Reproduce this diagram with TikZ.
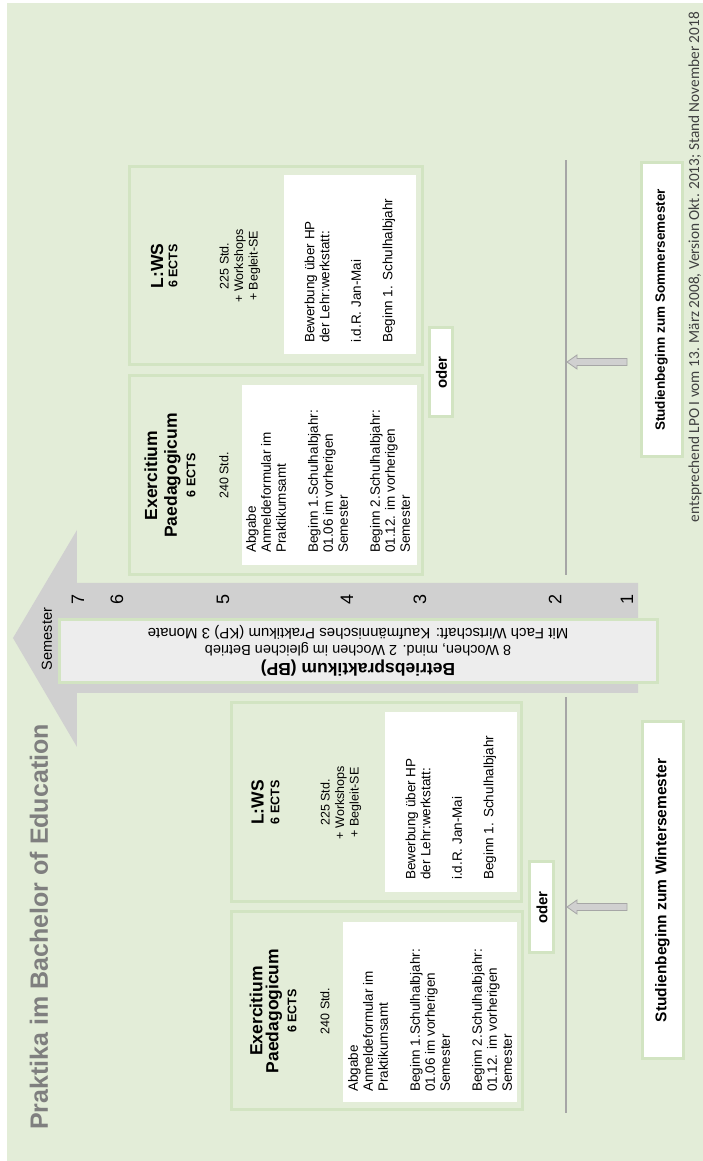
\documentclass[tikz,border=0pt]{standalone}
\usepackage{fontspec}
\setmainfont{Liberation Sans}
\newfontfamily\footfont{Carlito}
\usetikzlibrary{calc}
\definecolor{bggreen}{HTML}{E3EDD8}
\definecolor{boxgreen}{HTML}{D2E4C2}
\definecolor{arrowgrey}{HTML}{D0D0D0}
\definecolor{bpgrey}{HTML}{EDEDED}
\definecolor{linegrey}{HTML}{A6A6A6}
\definecolor{titlegrey}{HTML}{7F7F7F}
\newcommand{\fsz}[2]{\fontsize{#1}{#2}\selectfont}
\def\startarrow(#1)(#2){\filldraw[fill=arrowgrey, draw=black!35, line width=0.8pt] ($(#1)+(-3.5,0)$) -- ($(#2)+(-3.5,-10)$) -- ($(#2)+(-7,-10)$) -- (#2) -- ($(#2)+(7,-10)$) -- ($(#2)+(3.5,-10)$) -- ($(#1)+(3.5,0)$) -- cycle;}

\begin{document}
\begin{tikzpicture}[x=1pt, y=1pt,
	phase/.style={draw=boxgreen, line width=3pt},
	ph/.style={font=\bfseries\fsz{17.5}{19}, inner sep=0},
	ects/.style={font=\bfseries\fsz{12.5}{14}, inner sep=0},
	std/.style={font=\fsz{12.5}{14.5}, align=center, inner sep=0},
	info/.style={font=\fsz{13.5}{15}, align=left, anchor=west, inner sep=0},
	oderbox/.style={draw=boxgreen, line width=3pt, fill=white, font=\bfseries\fsz{15}{17}, inner sep=0},
	startbox/.style={draw=boxgreen, line width=3pt, fill=white, font=\bfseries, inner sep=0},
	semline/.style={draw=linegrey, line width=2pt}]
	\begin{scope}[rotate=90, transform shape]
		%%%%% START %%%%%
		
		\useasboundingbox (0,0) rectangle (1161,703);
		\fill[white] (0,0) rectangle (1161,703);
		\fill[bggreen] (0,0) rectangle (1158,696);
		
		\node[anchor=west, font=\bfseries\fsz{25}{30}, text=titlegrey, inner sep=0] (title) at (31,664) {Praktika im Bachelor of Education};
		
		% Semesterpfeil
		\fill[arrowgrey] (468,65) -- (578,65) -- (578,626) -- (631,626) -- (523,690) -- (414,626) -- (468,626) -- cycle;
		\node[font=\fsz{14.5}{16}, inner sep=0] (semlabel) at (522,656) {Semester};
		\foreach \n/\v in {1/76,2/148,3/283,4/356,5/480,6/586,7/625}
			\node[font=\fsz{18}{20}, inner sep=0] (sem\n) at (561,\v) {\n};
		
		\draw[phase, fill=bpgrey] (478,46) rectangle (541,643);
		\node[rotate=90, font=\bfseries\fsz{17.5}{19}, inner sep=0] (bp1) at (493,345) {Betriebspraktikum (BP)};
		\node[rotate=90, font=\fsz{14.5}{16}, inner sep=0] (bp2) at (512,345) {8 Wochen, mind. 2 Wochen im gleichen Betrieb};
		\node[rotate=90, font=\fsz{15}{16}, inner sep=0] (bp3) at (529,345) {Mit Fach Wirtschaft: Kaufmännisches Praktikum (KP) 3 Monate};
		
		% Wintersemester
		\draw[phase] (51,180) rectangle (249,471);
		\fill[white] (59,186) rectangle (239,360);
		\node[ph] (exW1) at (150,447) {Exercitium};
		\node[ph] (exW2) at (150,429) {Paedagogicum};
		\node[ects] (exW3) at (150,411) {6 ECTS};
		\node[std] (exW4) at (150,378) {240 Std.};
		\node[info] (exWinfo) at (69,273) {Abgabe\\Anmeldeformular im\\Praktikumsamt\\[17pt]Beginn 1.Schulhalbjahr:\\01.06 im vorherigen\\Semester\\[17pt]Beginn 2.Schulhalbjahr:\\01.12. im vorherigen\\Semester};
		
		\draw[phase] (259,181) rectangle (458,471);
		\fill[white] (269,186) rectangle (449,318);
		\node[ph] (lwW1) at (358.5,445.5) {L:WS};
		\node[ects] (lwW2) at (358.5,428) {6 ECTS};
		\node[std] (lwW3) at (358.5,362) {225 Std.\\+ Workshops\\+ Begleit-SE};
		\node[info] (lwWinfo) at (281,252) {Bewerbung über HP\\der Lehr:werkstatt:\\[16.5pt]i.d.R. Jan-Mai\\[16.5pt]Beginn 1. Schulhalbjahr};
		
		\node[oderbox, minimum width=91, minimum height=24] (oderW) at (253.5,161) {oder};
		\draw[semline] (48,137) -- (464,137);
		\node[startbox, minimum width=337, minimum height=41, font=\bfseries\fsz{15.5}{18}] (startW) at (270.5,40.5) {Studienbeginn zum Wintersemester};
		\coordinate (wsTail) at (254,76);
		\coordinate (wsTip) at (254,136);
		\startarrow(wsTail)(wsTip)
		
		% Sommersemester
		\draw[phase] (586,280) rectangle (785,573);
		\fill[white] (596,286) rectangle (776,461);
		\node[ph] (exS1) at (685.5,552) {Exercitium};
		\node[ph] (exS2) at (685.5,530.5) {Paedagogicum};
		\node[ects] (exS3) at (685.5,512) {6 ECTS};
		\node[std] (exS4) at (685.5,479) {240 Std.};
		\node[info] (exSinfo) at (608,375) {Abgabe\\Anmeldeformular im\\Praktikumsamt\\[17pt]Beginn 1.Schulhalbjahr:\\01.06 im vorherigen\\Semester\\[17pt]Beginn 2.Schulhalbjahr:\\01.12. im vorherigen\\Semester};
		
		\draw[phase] (796,280) rectangle (994,573);
		\fill[white] (807,287) rectangle (986,419);
		\node[ph] (lwS1) at (895,546) {L:WS};
		\node[ects] (lwS2) at (895,530) {6 ECTS};
		\node[std] (lwS3) at (895,463) {225 Std.\\+ Workshops\\+ Begleit-SE};
		\node[info] (lwSinfo) at (818,353) {Bewerbung über HP\\der Lehr:werkstatt:\\[16.5pt]i.d.R. Jan-Mai\\[16.5pt]Beginn 1. Schulhalbjahr};
		
		\node[oderbox, minimum width=89, minimum height=23] (oderS) at (788.5,261.5) {oder};
		\draw[semline] (586,137) -- (1001,137);
		\node[startbox, minimum width=294, minimum height=41, font=\bfseries\fsz{13.5}{16}] (startS) at (851,41.5) {Studienbeginn zum Sommersemester};
		\coordinate (ssTail) at (799,76);
		\coordinate (ssTip) at (799,136);
		\startarrow(ssTail)(ssTip)
		
		\node[anchor=east, font=\footfont\fsz{15.3}{17}, text=black!75, inner sep=0] (foot) at (1149,8) {entsprechend LPO I vom 13. März 2008, Version Okt. 2013; Stand November 2018};
		
		%%%%% END %%%%%
	\end{scope}
\end{tikzpicture}
\end{document}
